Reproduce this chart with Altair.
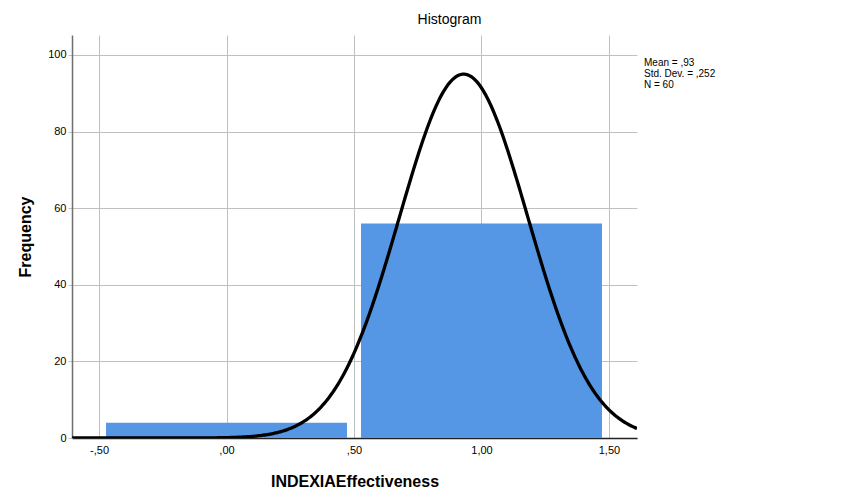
import altair as alt
import pandas as pd
import numpy as np

# Histogram data
bin_start = [-0.5, 0.5]
bin_end = [0.5, 1.5]
counts = [4, 56]

# Normal-curve parameters (from the chart legend)
mean_val = [0.93]
sd_val = [0.252]
n_val = [60]
bin_width = [1.0]

x_ticks = [-0.5, 0.0, 0.5, 1.0, 1.5]
y_ticks = [0, 20, 40, 60, 80, 100]
stats_lines = ["Mean = ,93", "Std. Dev. = ,252", "N = 60"]

x_dom = [-0.606, 1.61]
y_dom = [0, 105.2]

bars = pd.DataFrame({"start": bin_start, "end": bin_end, "count": counts})

xs = np.linspace(x_dom[0], x_dom[1], 400)
m, s, n, w = mean_val[0], sd_val[0], n_val[0], bin_width[0]
ys = n * w / (s * np.sqrt(2 * np.pi)) * np.exp(-0.5 * ((xs - m) / s) ** 2)
curve = pd.DataFrame({"x": xs, "y": ys})

FONT = "Liberation Sans"

xscale = alt.Scale(domain=x_dom, nice=False, zero=False)
yscale = alt.Scale(domain=y_dom, nice=False)

xlab = ("(datum.value < 0 ? '-' : '') + (abs(datum.value) < 1 ? ',' + "
        "substring(format(abs(datum.value), '.2f'), 2) : "
        "replace(format(abs(datum.value), '.2f'), '.', ','))")

xaxis = alt.Axis(
    values=x_ticks, labelExpr=xlab, title="INDEXIAEffectiveness",
    titleFontSize=16, titleFontWeight="bold", titlePadding=18, titleFont=FONT,
    titleColor="#000000",
    labelFont=FONT, labelFontSize=11, labelColor="#000000", labelPadding=6,
    ticks=False, grid=True, gridColor="#c0c0c0", gridWidth=1,
    domainColor="#222222", domainWidth=1.5,
)
yaxis = alt.Axis(
    values=y_ticks, title="Frequency",
    titleFontSize=16, titleFontWeight="bold", titlePadding=14, titleFont=FONT,
    titleColor="#000000",
    labelFont=FONT, labelFontSize=11, labelColor="#000000", labelPadding=2,
    ticks=True, tickSize=4, tickColor="#c0c0c0",
    grid=True, gridColor="#c0c0c0", gridWidth=1,
    domainColor="#6e6e6e", domainWidth=1.5,
)

bar_layer = alt.Chart(bars).mark_rect(
    color="#5596e5", xOffset=7, x2Offset=-7
).encode(
    x=alt.X("start:Q", scale=xscale, axis=xaxis),
    x2="end:Q",
    y=alt.Y("count:Q", scale=yscale, axis=yaxis),
    y2=alt.datum(0),
)

line_layer = alt.Chart(curve).mark_line(
    color="#000000", strokeWidth=3.3, clip=True
).encode(
    x=alt.X("x:Q", scale=xscale),
    y=alt.Y("y:Q", scale=yscale),
)

stats = pd.DataFrame({"t": ["\n".join(stats_lines)]})
stats_layer = alt.Chart(stats).mark_text(
    align="left", baseline="top", font=FONT, fontSize=10, color="#000000",
    lineBreak="\n", lineHeight=11,
).encode(
    x=alt.value(572),
    y=alt.value(23),
    text="t:N",
)

chart = alt.layer(bar_layer, line_layer, stats_layer).properties(
    width=565, height=403,
    autosize=alt.AutoSizeParams(type="none"),
    padding={"left": 64, "top": 27, "right": 206, "bottom": 55},
    title=alt.TitleParams(
        "Histogram", font=FONT, fontSize=14, fontWeight="normal",
        color="#000000", anchor="middle", dx=95, offset=8,
    ),
).configure_view(stroke=None)

chart.save("out.html", embed_options={"renderer": "svg", "actions": False})
